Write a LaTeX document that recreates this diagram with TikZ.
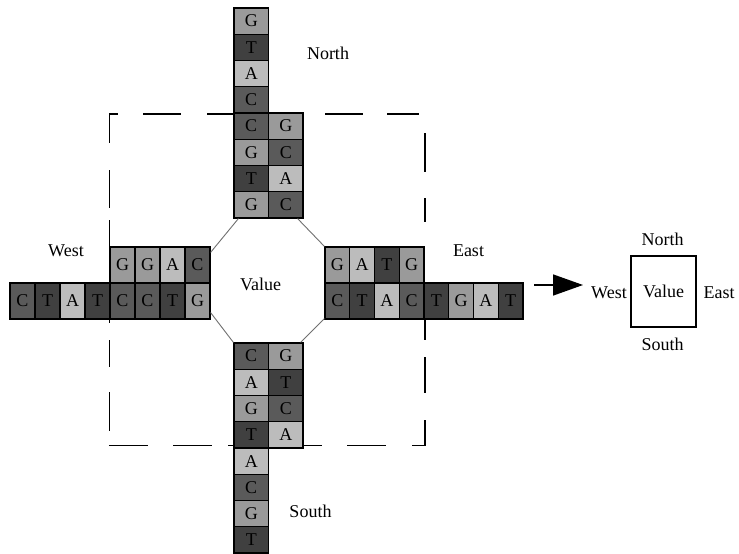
\documentclass[tikz,border=0pt]{standalone}
\usepackage{fontspec}
\setmainfont{Liberation Serif}
\usetikzlibrary{arrows.meta}
\definecolor{cT}{HTML}{404040}
\definecolor{cC}{HTML}{5A5A5A}
\definecolor{cG}{HTML}{9A9A9A}
\definecolor{cA}{HTML}{BCBCBC}
\definecolor{octgray}{HTML}{707070}
\begin{document}
\begin{tikzpicture}[x=1pt,y=-1pt,
  every node/.style={font=\fontsize{18}{20}\selectfont, inner sep=0pt},
  cell/.style={draw=black, line width=1.2pt},
  vcell/.style={cell, minimum width=34.5pt, minimum height=26.25pt},
  hcell/.style={cell, minimum width=25pt, minimum height=36pt},
  frame/.style={line width=1.3pt, line cap=butt},
  oct/.style={draw=octgray, line width=0.9pt},
  box/.style={draw=black, line width=1.1pt, minimum width=65pt, minimum height=71pt}]
\useasboundingbox (0,0) rectangle (739,554);
\fill[white] (0,0) rectangle (739,554);
% dashed frame
\foreach \a/\b in {109.5/118,143/181,207/240,325/363,387/419}
  \draw[frame] (\a,114) -- (\b,114);
\foreach \a/\b in {113.4/143,170/208,220/323,340/367,392/431}
  \draw[frame] (109.5,\a) -- (109.5,\b);
\foreach \a/\b in {108.9/148,173/212,228/240,296/322,347/386,412/425.6}
  \draw[frame] (\a,445.5) -- (\b,445.5);
\foreach \a/\b in {133/172,198/222,290/340,357/393,420/446.1}
  \draw[frame] (425,\a) -- (425,\b);
% north arm
\foreach \l [count=\i] in {G,T,A,C,C,G,T,G}
  \node[vcell, fill=c\l] (n\i) at (251.25,{8+26.25*(\i-0.5)}) {\l};
\foreach \l [count=\i from 5] in {G,C,A,C}
  \node[vcell, fill=c\l] (nn\i) at (285.75,{8+26.25*(\i-0.5)}) {\l};
% south arm
\foreach \l [count=\i] in {C,A,G,T,A,C,G,T}
  \node[vcell, fill=c\l] (s\i) at (251.25,{343+26.25*(\i-0.5)}) {\l};
\foreach \l [count=\i] in {G,T,C,A}
  \node[vcell, fill=c\l] (ss\i) at (285.75,{343+26.25*(\i-0.5)}) {\l};
% west arm
\foreach \l [count=\i] in {C,T,A,T,C,C,T,G}
  \node[hcell, fill=c\l] (wb\i) at ({10+25*(\i-0.5)},301) {\l};
\foreach \l [count=\i] in {G,G,A,C}
  \node[hcell, fill=c\l] (wt\i) at ({110+25*(\i-0.5)},265) {\l};
% east arm
\foreach \l [count=\i] in {G,A,T,G}
  \node[hcell, minimum width=24.75pt, fill=c\l] (et\i) at ({325+24.75*(\i-0.5)},265) {\l};
\foreach \l [count=\i] in {C,T,A,C,T,G,A,T}
  \node[hcell, minimum width=24.75pt, fill=c\l] (eb\i) at ({325+24.75*(\i-0.5)},301) {\l};
% octagon
\draw[oct] ([xshift=5pt]n8.south west) -- ([yshift=-6pt]wt4.north east);
\draw[oct] ([xshift=-6pt]nn8.south east) -- (et1.north west);
\draw[oct] ([yshift=7pt]wb8.south east) -- (s1.north west);
\draw[oct] ([yshift=1pt]eb1.south west) -- ([xshift=-3pt]ss1.north east);
\node (val) at (260.5,284.5) {Value};
% labels
\node (lnorth) at (328,53) {North};
\node (lwest) at (66,251) {West};
\node (least) at (468.5,251) {East};
\node (lsouth) at (310.5,511) {South};
% arrow and legend box
\coordinate (arrS) at (534,285);
\coordinate (arrE) at (583,285);
\draw[line width=1.5pt, -{Triangle[length=30pt,width=21pt]}] (arrS) -- (arrE);
\node[box] (bx) at (663.5,291.5) {Value};
\node (bnorth) at (662.5,239) {North};
\node (bsouth) at (662.5,344) {South};
\node (bwest) at (609,292.5) {West};
\node (beast) at (719,292.5) {East};
\end{tikzpicture}
\end{document}
